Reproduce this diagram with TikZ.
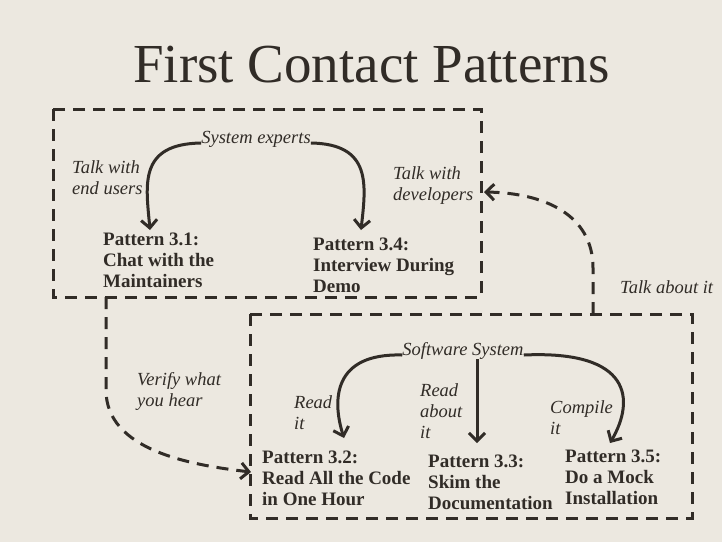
\documentclass[tikz,border=0pt]{standalone}
\usepackage{fontspec}
\setmainfont{Liberation Serif}
\usetikzlibrary{arrows.meta}
\definecolor{paper}{HTML}{ECE8E0}
\definecolor{ink}{HTML}{312C27}
\begin{document}
\begin{tikzpicture}[x=1pt,y=-1pt,
    every node/.style={text=ink,inner sep=0pt},
    patname/.style={anchor=north west,align=left,font=\fontsize{19}{21}\selectfont\bfseries},
    how/.style={anchor=north west,align=left,font=\fontsize{18.5}{21}\selectfont\itshape},
    frame/.style={draw=ink,line width=3pt,dash pattern=on 12pt off 8pt},
    flow/.style={draw=ink,line width=3pt,-{Straight Barb[length=8pt,width=16pt]}},
    hint/.style={flow,dash pattern=on 12pt off 8pt}]
      \fill[paper] (0,0) rectangle (722,542);
      \node[anchor=base,font=\fontsize{55}{55}\selectfont] (title) at (371.5,82) {First Contact Patterns};
      \draw[frame] (53,109) rectangle (481,297);
      \draw[frame] (250,314) rectangle (692,518);
      \draw
        (256,143) node[how,anchor=base] (se) {System experts}
        (463,355) node[how,anchor=base] (sw) {Software System}
        (103,233) node[patname] (p31) {Pattern 3.1:\\Chat with the\\Maintainers}
        (313,238) node[patname] (p34) {Pattern 3.4:\\Interview During\\Demo}
        (262,451) node[patname] (p32) {Pattern 3.2:\\Read All the Code\\in One Hour}
        (428,455) node[patname] (p33) {Pattern 3.3:\\Skim the\\Documentation}
        (565,450) node[patname] (p35) {Pattern 3.5:\\Do a Mock\\Installation}
        (72,160) node[how] (endusers) {Talk with\\end users}
        (393,166) node[how] (devs) {Talk with\\developers}
        (294,395) node[how] (readit) {Read\\it}
        (420,383) node[how] (readabout) {Read\\about\\it}
        (550,400) node[how] (compile) {Compile\\it}
        (137,372) node[how] (verify) {Verify what\\you hear}
        (620,293) node[how,anchor=base west] (talkabout) {Talk about it};
      \coordinate (t31) at (150,230);
      \coordinate (t34) at (361,230);
      \coordinate (t32) at (344,438);
      \coordinate (t33) at (477,443);
      \coordinate (t35) at (610,443);
      \coordinate (v0) at (106,297);
      \coordinate (v1) at (251,472);
      \coordinate (a0) at (593,314);
      \coordinate (a1) at (484,192);
      \begin{scope}[flow]
        \draw (se.base west) .. controls (138,144) and (146,185) .. (t31);
        \draw (se.base east) .. controls (372,144) and (366,185) .. (t34);
        \draw (sw.base west) .. controls (333,353) and (332,400) .. (t32);
        \draw (sw.south -| t33) -- (t33);
        \draw (sw.base east) .. controls (632,350) and (635,400) .. (t35);
      \end{scope}
      \begin{scope}[hint]
        \draw (v0) -- (106,390) .. controls (106,450) and (190,465) .. (v1);
        \draw (a0) -- (593,268) .. controls (593,215) and (545,193) .. (a1);
      \end{scope}
    \end{tikzpicture}
\end{document}
